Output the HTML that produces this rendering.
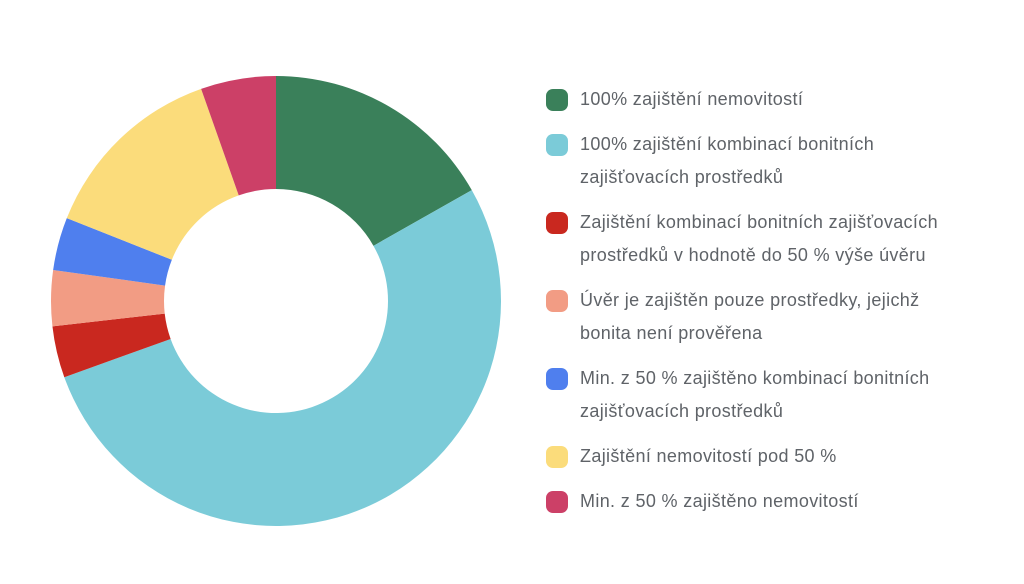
<!DOCTYPE html>
<html><head><meta charset="utf-8"><style>
body{margin:0;width:1024px;height:584px;background:#fff;overflow:hidden;font-family:"Liberation Sans",sans-serif}
.lg{position:absolute;left:546px;color:#5f6368;font-size:18px;letter-spacing:0.35px;line-height:33px}
.it{position:relative;padding-left:34px;margin-bottom:12px;width:385px}
.sw{position:absolute;left:0;top:6px;width:22px;height:22px;border-radius:7px}
</style></head><body>
<svg width="1024" height="584" style="position:absolute;left:0;top:0"><g id="g"></g></svg>
<div class="lg" id="lg" style="top:83px;width:440px"></div>
<script>
const labels=["100% zajištění nemovitostí","100% zajištění kombinací bonitních zajišťovacích prostředků","Zajištění kombinací bonitních zajišťovacích prostředků v hodnotě do 50 % výše úvěru","Úvěr je zajištěn pouze prostředky, jejichž bonita není prověřena","Min. z 50 % zajištěno kombinací bonitních zajišťovacích prostředků","Zajištění nemovitostí pod 50 %","Min. z 50 % zajištěno nemovitostí"];
const values=[16.8,52.7,3.7,4.0,3.8,13.6,5.4];
const colors=["#3a805a","#7bcbd8","#c9281f","#f29c84","#4f7fee","#fbdc7b","#cc4067"];
const cx=276,cy=301,R=225,r=112;
const g=document.getElementById('g');
const tot=values.reduce((a,b)=>a+b,0);
let a0=0;
function pt(a,rad){return [cx+rad*Math.sin(a),cy-rad*Math.cos(a)];}
values.forEach((v,i)=>{
 const a1=a0+v/tot*2*Math.PI;
 const [x1,y1]=pt(a0,R),[x2,y2]=pt(a1,R),[x3,y3]=pt(a1,r),[x4,y4]=pt(a0,r);
 const lf=(a1-a0)>Math.PI?1:0;
 const p=document.createElementNS('http://www.w3.org/2000/svg','path');
 p.setAttribute('d',`M${x1},${y1}A${R},${R} 0 ${lf} 1 ${x2},${y2}L${x3},${y3}A${r},${r} 0 ${lf} 0 ${x4},${y4}Z`);
 p.setAttribute('fill',colors[i]);
 
 
 g.appendChild(p);
 a0=a1;
});
const lg=document.getElementById('lg');
labels.forEach((t,i)=>{
 const d=document.createElement('div');d.className='it';
 
 
 d.innerHTML=`<span class="sw" style="background:${colors[i]}"></span>${t}`;
 lg.appendChild(d);
});
</script>
</body></html>
